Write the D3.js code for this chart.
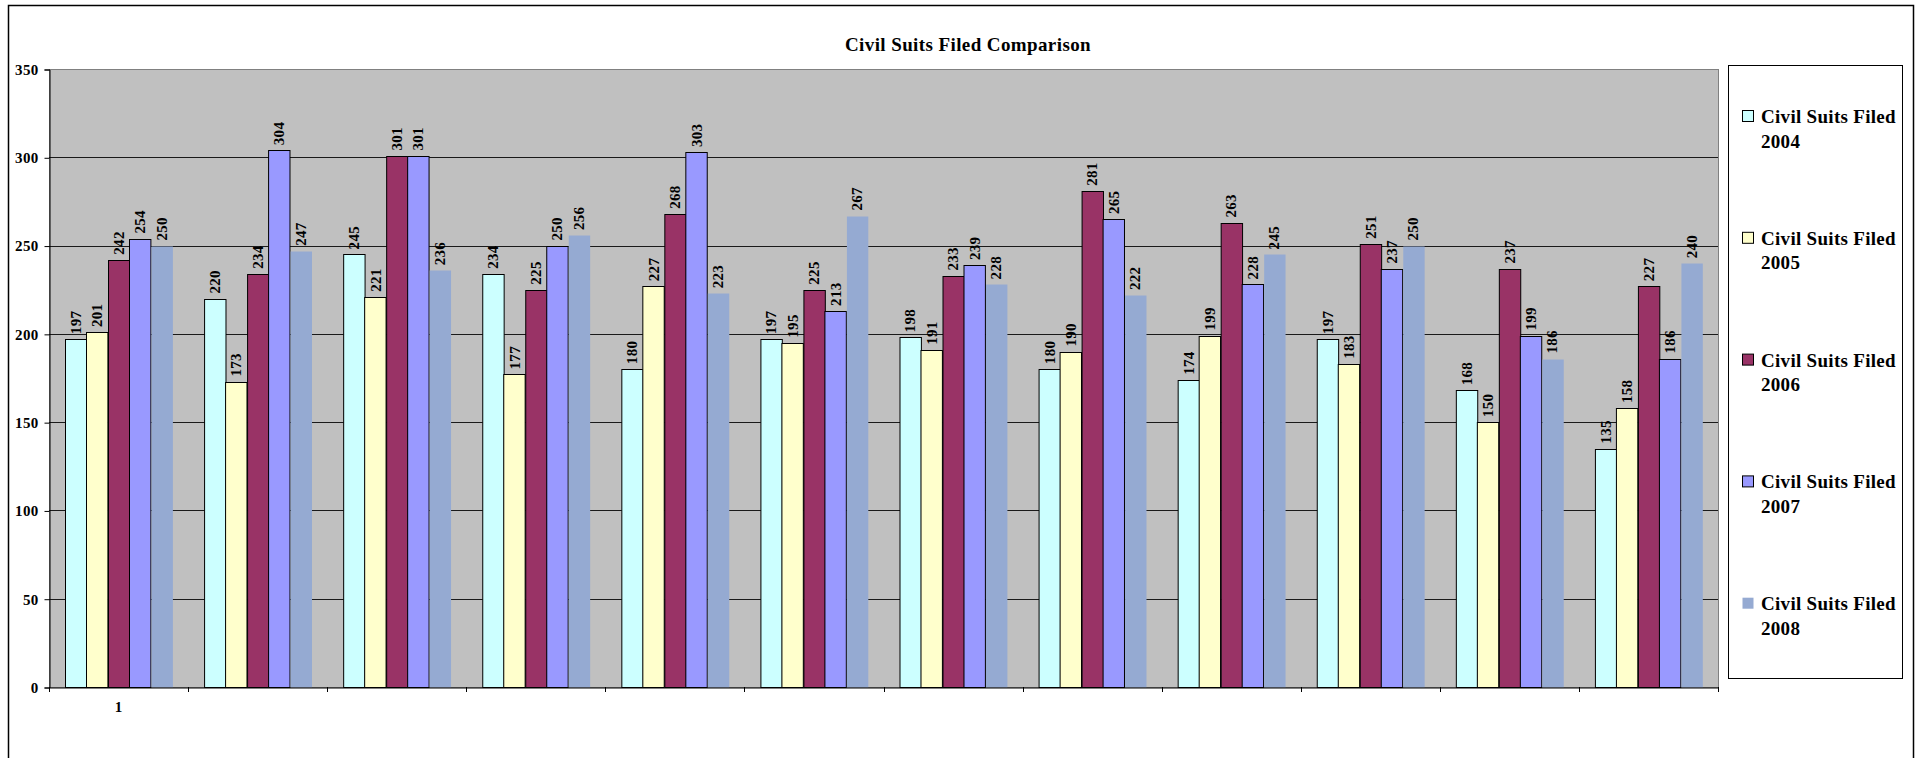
<!DOCTYPE html>
<html>
<head>
<meta charset="utf-8">
<script src="https://cdn.jsdelivr.net/npm/d3@7/dist/d3.min.js"></script>
<style>
  html, body { margin: 0; padding: 0; background: #fff; }
  svg { display: block; }
  text { font-family: "Liberation Serif", "Times New Roman", serif; font-weight: bold; fill: #000; }
</style>
</head>
<body>
<svg id="chart" width="1925" height="758"></svg>
<script>
// Civil suits filed per category, one array per year
const categoryLabels = ["1", "", "", "", "", "", "", "", "", "", "", ""];
const seriesNames = [
  "Civil Suits Filed 2004",
  "Civil Suits Filed 2005",
  "Civil Suits Filed 2006",
  "Civil Suits Filed 2007",
  "Civil Suits Filed 2008"
];
const suits2004 = [197, 220, 245, 234, 180, 197, 198, 180, 174, 197, 168, 135];
const suits2005 = [201, 173, 221, 177, 227, 195, 191, 190, 199, 183, 150, 158];
const suits2006 = [242, 234, 301, 225, 268, 225, 233, 281, 263, 251, 237, 227];
const suits2007 = [254, 304, 301, 250, 303, 213, 239, 265, 228, 237, 199, 186];
const suits2008 = [250, 247, 236, 256, 223, 267, 228, 222, 245, 250, 186, 240];
const yTicks = [0, 50, 100, 150, 200, 250, 300, 350];

const seriesValues = [suits2004, suits2005, suits2006, suits2007, suits2008];
const seriesFill = ["#CCFFFF", "#FFFFCC", "#993366", "#9999FF", "#95AAD2"];
const seriesStroke = ["#000", "#000", "#000", "#000", "none"];

const svg = d3.select("#chart");

// outer chart frame (open at the bottom edge of the page)
svg.append("path")
  .attr("d", "M8.5,770V5.5H1913.5V770")
  .attr("fill", "none").attr("stroke", "#000").attr("stroke-width", 1.5);

const plot = { left: 49, right: 1718, top: 69, bottom: 687 };

const groupIdx = d3.range(categoryLabels.length);
const x0 = d3.scaleBand().domain(groupIdx).range([plot.left, plot.right]).padding(0);
const x1 = d3.scaleBand().domain(d3.range(seriesNames.length))
  .range([0, x0.bandwidth()]).paddingInner(0).paddingOuter(0.75);
const y = d3.scaleLinear().domain([0, 350]).range([plot.bottom, plot.top]);

// plot background
svg.append("rect")
  .attr("x", plot.left + 0.5).attr("y", plot.top + 0.5)
  .attr("width", plot.right - plot.left).attr("height", plot.bottom - plot.top)
  .attr("fill", "#C0C0C0").attr("stroke", "#808080").attr("stroke-width", 1);

// horizontal gridlines
svg.append("g").selectAll("line")
  .data(yTicks.filter(t => t > 0 && t < 350))
  .join("line")
  .attr("x1", plot.left).attr("x2", plot.right)
  .attr("y1", d => Math.round(y(d)) + 0.5).attr("y2", d => Math.round(y(d)) + 0.5)
  .attr("stroke", "#1a1a1a").attr("stroke-width", 1);

// bars
const groups = svg.append("g").selectAll("g")
  .data(groupIdx).join("g")
  .attr("transform", i => `translate(${x0(i)},0)`);

groups.selectAll("rect")
  .data(i => seriesValues.map((vals, s) => ({ s, v: vals[i] })))
  .join("rect")
  .attr("x", d => Math.round(x1(d.s)) + 0.5)
  .attr("y", d => Math.round(y(d.v)) + 0.5)
  .attr("width", x1.bandwidth())
  .attr("height", d => y(0) - Math.round(y(d.v)))
  .attr("fill", d => seriesFill[d.s])
  .attr("stroke", d => seriesStroke[d.s])
  .attr("stroke-width", 1);

// value labels above each bar, rotated
groups.selectAll("text")
  .data(i => seriesValues.map((vals, s) => ({ s, v: vals[i] })))
  .join("text")
  .attr("transform", d => `translate(${x1(d.s) + x1.bandwidth() / 2},${y(d.v) - 5}) rotate(-90)`)
  .attr("dy", "0.35em")
  .attr("text-anchor", "start")
  .style("font-size", "15px")
  .style("letter-spacing", "0.3px")
  .text(d => d.v);

// y axis
const yAxis = svg.append("g")
  .attr("transform", `translate(${plot.left + 0.5},0.5)`)
  .call(d3.axisLeft(y).tickValues(yTicks).tickSize(5).tickPadding(6).tickFormat(d3.format("d")));
yAxis.select(".domain").attr("stroke", "#000");
yAxis.selectAll(".tick line").attr("stroke", "#000");
yAxis.selectAll(".tick text")
  .style("font-size", "15px").style("letter-spacing", "0.3px")
  .style("font-family", "'Liberation Serif', 'Times New Roman', serif").style("font-weight", "bold");

// x axis: labels centred in each group, tick marks on the group boundaries
const xAxis = svg.append("g")
  .attr("transform", `translate(0,${plot.bottom + 0.5})`)
  .call(d3.axisBottom(x0).tickSize(0).tickPadding(14).tickFormat(i => categoryLabels[i]));
xAxis.select(".domain").attr("stroke", "#000");
xAxis.selectAll(".tick text")
  .style("font-size", "15px")
  .style("font-family", "'Liberation Serif', 'Times New Roman', serif").style("font-weight", "bold");

svg.append("g").selectAll("line")
  .data(groupIdx.concat([groupIdx.length]))
  .join("line")
  .attr("x1", i => Math.round(i < groupIdx.length ? x0(i) : plot.right) + 0.5)
  .attr("x2", i => Math.round(i < groupIdx.length ? x0(i) : plot.right) + 0.5)
  .attr("y1", plot.bottom).attr("y2", plot.bottom + 5)
  .attr("stroke", "#000").attr("stroke-width", 1);

// title
svg.append("text")
  .attr("x", 968).attr("y", 51)
  .attr("text-anchor", "middle")
  .style("font-size", "19px")
  .style("letter-spacing", "0.4px")
  .text("Civil Suits Filed Comparison");

// legend
const legend = svg.append("g");
legend.append("rect")
  .attr("x", 1728.5).attr("y", 65.5).attr("width", 1902 - 1728).attr("height", 678 - 65)
  .attr("fill", "#fff").attr("stroke", "#000").attr("stroke-width", 1);

const legendItems = legend.selectAll("g.item")
  .data(seriesNames)
  .join("g").attr("class", "item")
  .attr("transform", (d, i) => `translate(1742,${123 + i * 121.8})`);

legendItems.append("rect")
  .attr("x", 0.5).attr("y", -12.5).attr("width", 11).attr("height", 11)
  .attr("fill", (d, i) => seriesFill[i])
  .attr("stroke", (d, i) => seriesStroke[i] === "none" ? "none" : "#000");

legendItems.each(function (name) {
  const words = name.split(" ");
  const t = d3.select(this).append("text")
    .attr("x", 19)
    .style("font-size", "19px")
    .style("letter-spacing", "0.3px");
  t.append("tspan").attr("x", 19).attr("y", 0).text(words.slice(0, 3).join(" "));
  t.append("tspan").attr("x", 19).attr("y", 24.5).text(words.slice(3).join(" "));
});
</script>
</body>
</html>
